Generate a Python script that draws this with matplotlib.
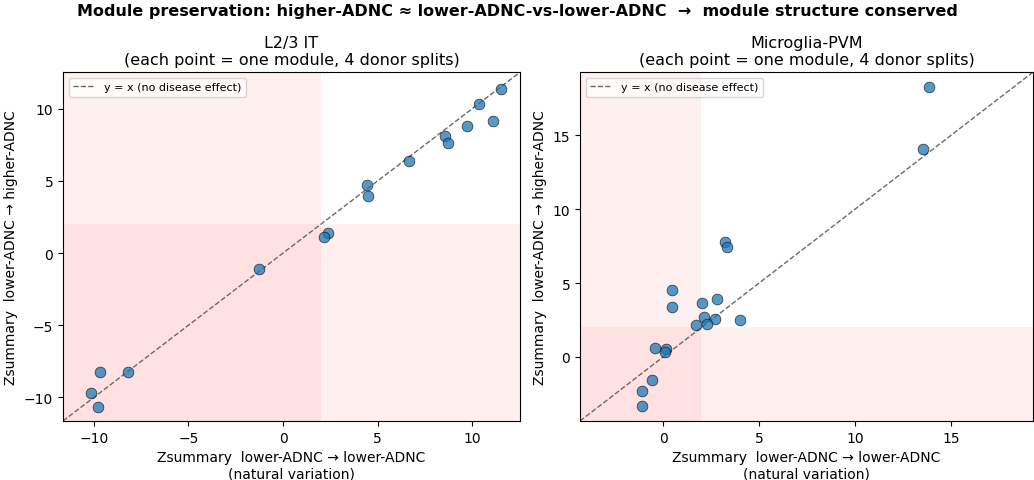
import numpy as np
import matplotlib.pyplot as plt

# module Zsummary values
# L2/3 IT
l23_lower = [11.52, 10.34, 11.08, 9.74, 8.58, 8.72, 6.65, 4.45, 4.49, 2.37, 2.18,
             -1.25, -8.22, -9.68, -10.17, -9.76]
l23_higher = [11.36, 10.33, 9.11, 8.81, 8.14, 7.65, 6.36, 4.72, 3.92, 1.38, 1.11,
              -1.13, -8.23, -8.23, -9.66, -10.63]

# Microglia-PVM
mg_lower = [13.86, 13.53, 3.25, 3.31, 0.46, 0.44, 2.79, 2.03, 2.13, 2.69, 4.03,
            1.72, 2.30, -0.40, 0.15, 0.12, -0.59, -1.08, -1.08]
mg_higher = [18.26, 14.04, 7.78, 7.42, 4.52, 3.37, 3.91, 3.66, 2.70, 2.54, 2.52,
             2.18, 2.20, 0.59, 0.52, 0.36, -1.55, -2.27, -3.33]

thresh = 2  # Zsummary > 2 = preserved

panels = [('L2/3 IT', l23_lower, l23_higher), ('Microglia-PVM', mg_lower, mg_higher)]

fig = plt.figure(figsize=(10.34, 4.81), dpi=100)
positions = [[0.0609, 0.1227, 0.442, 0.725], [0.5609, 0.1227, 0.438, 0.725]]

for pos, (name, xs, ys) in zip(positions, panels):
    ax = fig.add_axes(pos)
    lo = min(min(xs), min(ys)) - 1
    hi = max(max(xs), max(ys)) + 1
    ax.axvspan(lo, thresh, color='red', alpha=0.06, lw=0)
    ax.axhspan(lo, thresh, color='red', alpha=0.06, lw=0)
    ax.plot([lo, hi], [lo, hi], '--', color='dimgray', lw=1, label='y = x (no disease effect)')
    ax.scatter(xs, ys, s=60, color='tab:blue', alpha=0.75, edgecolor='k', linewidth=0.5, zorder=3)
    ax.set_xlim(lo, hi)
    ax.set_ylim(lo, hi)
    ax.set_title(name + '\n(each point = one module, 4 donor splits)', fontsize=11.5)
    ax.set_xlabel('Zsummary  lower-ADNC → lower-ADNC\n(natural variation)', fontsize=10)
    ax.set_ylabel('Zsummary  lower-ADNC → higher-ADNC', fontsize=10)
    ax.legend(loc='upper left', fontsize=8)

fig.suptitle('Module preservation: higher-ADNC ≈ lower-ADNC-vs-lower-ADNC  →  module structure conserved',
             fontsize=11.5, fontweight='bold', y=0.992)
plt.savefig('out.png', dpi=100)
